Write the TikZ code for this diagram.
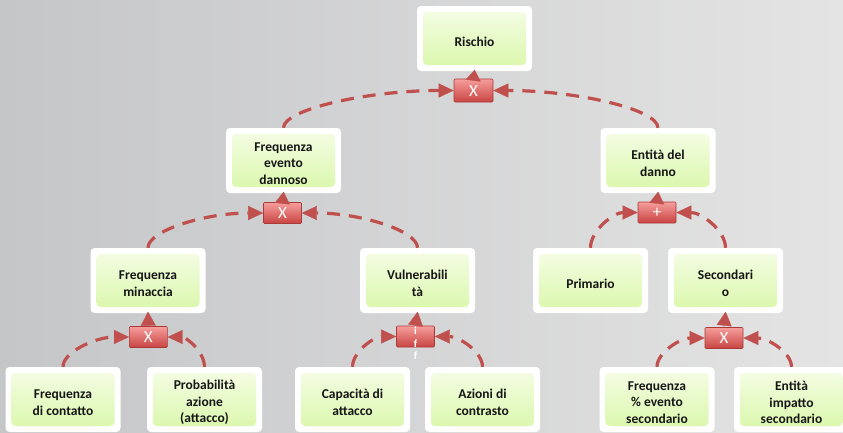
\documentclass[tikz,border=0pt]{standalone}
\usepackage{fontspec}
\setmainfont{Carlito}
\usetikzlibrary{arrows.meta,calc}

\definecolor{linkred}{RGB}{192,80,77}
\definecolor{crossedge}{RGB}{170,58,56}
\definecolor{crosstop}{RGB}{246,158,156}
\definecolor{crossbot}{RGB}{200,68,66}
\definecolor{greentop}{RGB}{246,253,232}
\definecolor{greenbot}{RGB}{217,247,168}
\definecolor{bgleft}{RGB}{197,198,200}
\definecolor{bgmid}{RGB}{218,218,219}
\definecolor{bgright}{RGB}{228,228,228}
\definecolor{ink}{RGB}{22,22,22}

\begin{document}
\begin{tikzpicture}[x=1pt,y=-1pt,
  box/.style={rectangle, fill=white, rounded corners=4pt, inner sep=0pt,
    minimum width=115pt, minimum height=65pt,
    path picture={\shade[top color=greentop, bottom color=greenbot]
      ([xshift=6pt,yshift=-6pt]path picture bounding box.north west) rectangle
      ([xshift=-6pt,yshift=6pt]path picture bounding box.south east);}},
  boxtext/.style={font=\fontsize{13.5}{16.5}\selectfont\bfseries, align=center,
    text=ink, yshift=-3pt},
  cross/.style={rectangle, draw=crossedge, line width=0.6pt, rounded corners=1pt,
    top color=crosstop, bottom color=crossbot, inner sep=0pt,
    minimum width=38pt, minimum height=21pt},
  crosstext/.style={text=white, font=\fontsize{17}{17}\selectfont, yshift=-0.5pt},
  bow/.style={to path={.. controls ($(\tikztostart)!0.5!(\tikztostart |- \tikztotarget)$)
      and ($(\tikztotarget)!0.5!(\tikztostart |- \tikztotarget)$) .. (\tikztotarget)}},
  link/.style={draw=linkred, line width=3.2pt, dash pattern=on 13pt off 9pt, bow,
    -{Triangle[length=15pt,width=14pt,line width=0.3pt]}},
  uplink/.style={draw=linkred, fill=linkred, line width=0.3pt, shorten >=-1.5pt,
    -{Triangle[length=#1,width=15pt,line width=0.3pt]}},
  uplink/.default=12pt
]
\useasboundingbox (0,0) rectangle (843,432);
\clip (0,0) rectangle (843,432);
\shade[left color=bgleft, middle color=bgmid, right color=bgright] (0,0) rectangle (843,432);

% top level
\node[box, label={[boxtext]center:Rischio}] (risk) at (474.5,38.5) {};
\node[cross, minimum width=39pt, minimum height=23pt,
      label={[crosstext]center:X}] (c0) at (473.5,90.5) {};

% second level
\node[box, label={[boxtext]center:{Frequenza\\evento\\dannoso}}] (fed) at (283.5,160.5) {};
\node[box, label={[boxtext]center:{Entità del\\danno}}] (ent) at (658,160.5) {};
\node[cross, label={[crosstext]center:X}] (c1a) at (282.5,213) {};
\node[cross, label={[crosstext]center:+}] (c1b) at (657,212.5) {};

% third level
\node[box, label={[boxtext]center:{Frequenza\\minaccia}}] (fm) at (148,280.5) {};
\node[box, label={[boxtext]center:{Vulnerabili\\tà}}] (vul) at (417.5,280.5) {};
\node[box, label={[boxtext]center:Primario}] (prim) at (590.5,280.5) {};
\node[box, label={[boxtext]center:{Secondari\\o}}] (sec) at (725.5,280.5) {};
\node[cross, label={[crosstext]center:X}] (c2a) at (148.3,337) {};
\node[cross, label={[text=white, font=\fontsize{11}{12.5}\selectfont\bfseries, align=center,
      yshift=-7pt]center:{i\\f\\f}}] (c2b) at (415.5,336.5) {};
\node[cross, label={[crosstext]center:X}] (c2c) at (724,338) {};

% bottom level
\node[box, label={[boxtext]center:{Frequenza\\di contatto}}] (fdc) at (63,399.5) {};
\node[box, label={[boxtext]center:{Probabilità\\azione\\(attacco)}}] (prob) at (204.5,399.5) {};
\node[box, label={[boxtext]center:{Capacità di\\attacco}}] (cap) at (352.5,399.5) {};
\node[box, label={[boxtext]center:{Azioni di\\contrasto}}] (az) at (482.5,399.5) {};
\node[box, label={[boxtext]center:{Frequenza\\\% evento\\secondario}}] (fps) at (657,399.5) {};
\node[box, label={[boxtext]center:{Entità\\impatto\\secondario}}] (eis) at (791.5,399.5) {};

% combinations feeding each parent
\draw[link] (fed.north) to (c0.west);
\draw[link] (ent.north) to (c0.east);
\draw[uplink=11pt] (c0.north) -- (risk.south);

\draw[link] (fm.north) to (c1a.west);
\draw[link] (vul.north) to (c1a.east);
\draw[uplink] (c1a.north) -- (fed.south);

\draw[link] (prim.north) to (c1b.west);
\draw[link] (sec.north) to (c1b.east);
\draw[uplink] (c1b.north) -- (ent.south);

\draw[link] (fdc.north) to (c2a.west);
\draw[link] (prob.north) to (c2a.east);
\draw[uplink=14pt] (c2a.north) -- (fm.south);

\draw[link] (cap.north) to (c2b.west);
\draw[link] (az.north) to (c2b.east);
\draw[uplink=14pt] (c2b.north) -- (vul.south);

\draw[link] (fps.north) to (c2c.west);
\draw[link] (eis.north) to (c2c.east);
\draw[uplink=14pt] (c2c.north) -- (sec.south);
\end{tikzpicture}
\end{document}
